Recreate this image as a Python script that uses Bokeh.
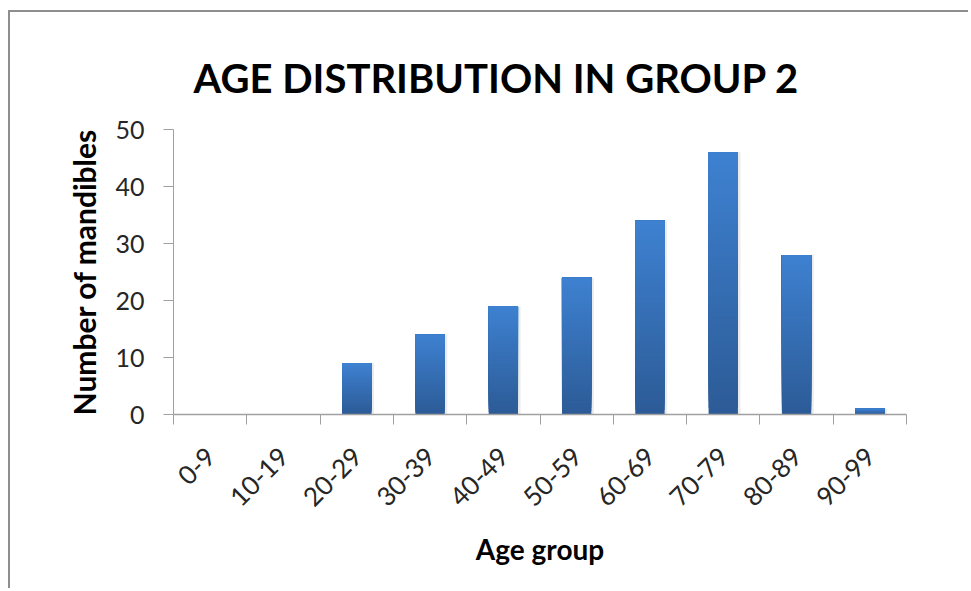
import numpy as np
from bokeh.plotting import figure
from bokeh.models import FixedTicker, LinearAxis, Range1d, Title
from bokeh.embed import file_html
from bokeh.resources import INLINE

# Age bands and number of mandibles per band
age_groups = ["0-9", "10-19", "20-29", "30-39", "40-49",
              "50-59", "60-69", "70-79", "80-89", "90-99"]
mandibles = [0, 0, 9, 14, 19, 24, 34, 46, 28, 1]
y_ticks = [0, 10, 20, 30, 40, 50]

FONT = "Lato"
GRID = "#a0a0a0"
W, H = 960, 578

p = figure(width=W, height=H, output_backend="svg", toolbar_location=None,
           x_range=Range1d(0, len(age_groups)), y_range=Range1d(0, 50),
           min_border_left=163, min_border_right=64,
           min_border_top=117, min_border_bottom=176,
           x_axis_type=None, y_axis_type=None)
p.margin = (10, 0, 0, 8)
p.styles = {"border-left": "2px solid #8e8e8e", "border-top": "2px solid #8e8e8e"}
p.outline_line_color = None
p.background_fill_color = "white"
p.border_fill_color = "white"

title = Title(text="AGE DISTRIBUTION IN GROUP 2", align="left", offset=20,
              vertical_align="top",
              text_font=FONT, text_font_size="40px", text_font_style="bold",
              text_color="black", standoff=52)
p.add_layout(title, "above")

# y axis with horizontal grid
yax = LinearAxis(ticker=FixedTicker(ticks=y_ticks))
yax.axis_line_color = GRID
yax.major_tick_line_color = GRID
yax.major_tick_out = 10
yax.major_tick_in = 0
yax.minor_tick_line_color = None
yax.major_label_text_font = FONT
yax.major_label_text_font_size = "25px"
yax.major_label_text_color = "#262626"
yax.major_label_standoff = 19
yax.axis_label = "Number of mandibles"
yax.axis_label_text_font = FONT
yax.axis_label_text_font_size = "30px"
yax.axis_label_text_font_style = "bold"
yax.axis_label_text_color = "black"
yax.axis_label_standoff = 10
p.add_layout(yax, "left")

p.ygrid.ticker = FixedTicker(ticks=y_ticks)
p.ygrid.grid_line_color = GRID
p.ygrid.grid_line_width = 1.3
p.xgrid.grid_line_color = None

# x axis: labels at bar centres, tick marks on category boundaries
centers = [i + 0.5 for i in range(len(age_groups))]
bounds = list(range(len(age_groups) + 1))
xax = LinearAxis(ticker=FixedTicker(ticks=centers, minor_ticks=bounds))
xax.major_label_overrides = {c: g for c, g in zip(centers, age_groups)}
xax.axis_line_color = GRID
xax.axis_line_width = 1.3
xax.major_tick_line_color = None
xax.major_tick_out = 0
xax.major_tick_in = 0
xax.minor_tick_line_color = GRID
xax.minor_tick_out = 10
xax.minor_tick_in = 0
xax.major_label_orientation = np.pi / 4
xax.major_label_text_font = FONT
xax.major_label_text_font_size = "26px"
xax.major_label_text_color = "#262626"
xax.major_label_standoff = 27
xax.axis_label = "Age group"
xax.axis_label_text_font = FONT
xax.axis_label_text_font_size = "28px"
xax.axis_label_text_font_style = "bold"
xax.axis_label_text_color = "black"
xax.axis_label_standoff = 14
p.add_layout(xax, "below")

# bars with a vertical gradient (dark bottom, light top), layered so that
# each lighter band sits on top of the darker bar underneath
bar_w = 0.4
vals = np.array(mandibles, dtype=float)
xs = np.array(centers)
# soft shadow behind each bar
p.vbar(x=xs + 0.02, top=vals, bottom=0, width=bar_w + 0.03,
       fill_color="#000000", fill_alpha=0.08, line_color=None)
top_rgb = np.array([0x3e, 0x81, 0xd1])
bot_rgb = np.array([0x2c, 0x5b, 0x96])
n = 40
for k in range(n):
    t = (k + 0.5) / n
    rgb = bot_rgb + (top_rgb - bot_rgb) * t
    col = "#%02x%02x%02x" % tuple(int(round(c)) for c in rgb)
    p.vbar(x=xs, bottom=vals * (k / n), top=vals, width=bar_w,
           fill_color=col, line_color=None)

open("out.html", "w").write(file_html(p, INLINE))
